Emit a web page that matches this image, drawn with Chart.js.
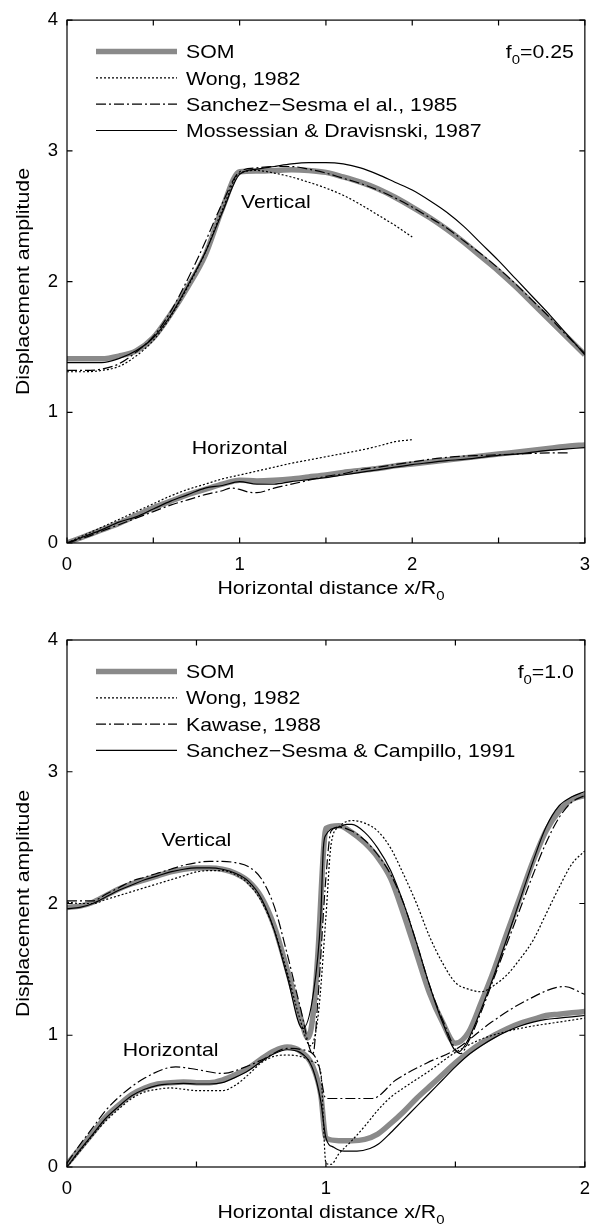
<!DOCTYPE html>
<html>
<head>
<meta charset="utf-8">
<script src="https://cdn.jsdelivr.net/npm/chart.js"></script>
<style>
  body { margin: 0; background: #fff; }
  canvas { display: block; }
</style>
</head>
<body>
<canvas id="chartTop" width="601" height="615"></canvas>
<canvas id="chartBottom" width="601" height="615"></canvas>
<script>
  // ---------- top panel, f0 = 0.25 ----------
  const topX = [0,0.1,0.2,0.3,0.4,0.5,0.6,0.7,0.8,0.9,1,1.1,1.2,1.3,1.4,1.5,1.6,1.7,1.8,1.9,2,2.1,2.2,2.3,2.4,2.5,2.6,2.7,2.8,2.9,3];
  const topWongX = [0,0.1,0.2,0.3,0.4,0.5,0.6,0.7,0.8,0.9,1,1.1,1.2,1.3,1.4,1.5,1.6,1.7,1.8,1.9,2];

  const topSomVert = [1.41,1.41,1.41,1.43,1.47,1.57,1.75,1.96,2.20,2.56,2.84,2.845,2.85,2.855,2.85,2.835,2.80,2.76,2.71,2.645,2.57,2.49,2.40,2.30,2.19,2.08,1.96,1.83,1.70,1.57,1.44];
  const topWongVert = [1.31,1.31,1.32,1.35,1.43,1.55,1.73,1.96,2.22,2.55,2.83,2.85,2.83,2.80,2.76,2.715,2.66,2.59,2.51,2.43,2.34];
  const topSanchezVert = [1.32,1.32,1.33,1.37,1.46,1.58,1.77,2.02,2.30,2.60,2.84,2.87,2.88,2.88,2.86,2.83,2.79,2.75,2.70,2.64,2.57,2.49,2.41,2.31,2.21,2.10,1.98,1.85,1.72,1.58,1.45];
  const topMossVert = [1.38,1.38,1.38,1.41,1.47,1.57,1.74,1.97,2.22,2.53,2.82,2.86,2.88,2.90,2.91,2.91,2.90,2.87,2.82,2.76,2.70,2.62,2.53,2.42,2.29,2.16,2.02,1.88,1.74,1.59,1.44];

  const topSomHorz = [0,0.05,0.10,0.15,0.21,0.27,0.32,0.37,0.41,0.45,0.48,0.475,0.48,0.49,0.505,0.52,0.54,0.555,0.57,0.59,0.605,0.62,0.635,0.65,0.665,0.68,0.695,0.71,0.725,0.74,0.75];
  const topWongHorz = [0,0.06,0.12,0.18,0.24,0.30,0.36,0.41,0.45,0.49,0.52,0.55,0.58,0.61,0.635,0.66,0.685,0.71,0.74,0.775,0.79];
  const topSanchezHorzX = [0,0.1,0.2,0.3,0.4,0.5,0.6,0.7,0.8,0.9,0.95,1.0,1.05,1.1,1.2,1.3,1.4,1.5,1.6,1.7,1.8,1.9,2.0,2.1,2.2,2.3,2.4,2.5,2.6,2.7,2.8,2.9];
  const topSanchezHorz = [0,0.04,0.09,0.14,0.19,0.24,0.29,0.33,0.37,0.40,0.42,0.41,0.39,0.385,0.42,0.45,0.48,0.51,0.53,0.56,0.58,0.60,0.62,0.64,0.655,0.665,0.67,0.675,0.68,0.685,0.69,0.69];
  const topMossHorz = [0,0.05,0.10,0.16,0.20,0.26,0.32,0.37,0.42,0.44,0.47,0.45,0.45,0.47,0.485,0.50,0.52,0.54,0.56,0.58,0.60,0.615,0.63,0.64,0.655,0.67,0.68,0.695,0.71,0.72,0.73];

  const topLegend = ['SOM', 'Wong, 1982', 'Sanchez\u2212Sesma el al., 1985', 'Mossessian & Dravisnski, 1987'];

  // ---------- bottom panel, f0 = 1.0 ----------
  const botSomVertX = [0,0.05,0.1,0.15,0.2,0.25,0.3,0.35,0.4,0.45,0.5,0.55,0.6,0.65,0.7,0.75,0.8,0.85,0.9,0.93,0.95,0.97,0.99,1.0,1.05,1.1,1.15,1.2,1.25,1.3,1.35,1.4,1.45,1.5,1.55,1.6,1.65,1.7,1.75,1.8,1.85,1.9,1.95,2.0];
  const botSomVert = [1.97,1.98,2.01,2.06,2.11,2.15,2.18,2.21,2.24,2.26,2.27,2.27,2.26,2.23,2.17,2.05,1.83,1.50,1.15,0.98,1.15,1.65,2.38,2.57,2.59,2.54,2.46,2.35,2.19,1.92,1.62,1.32,1.10,0.94,1.02,1.25,1.50,1.78,2.05,2.32,2.55,2.70,2.79,2.82];
  const botWongVertX = [0,0.05,0.1,0.15,0.2,0.25,0.3,0.35,0.4,0.45,0.5,0.55,0.6,0.65,0.7,0.75,0.8,0.85,0.9,0.94,0.97,1.0,1.02,1.05,1.1,1.15,1.2,1.25,1.3,1.35,1.4,1.45,1.5,1.55,1.6,1.65,1.7,1.75,1.8,1.85,1.9,1.95,2.0];
  const botWongVert = [2.01,2.00,2.00,2.03,2.06,2.09,2.12,2.15,2.18,2.21,2.24,2.25,2.25,2.22,2.15,2.02,1.80,1.48,1.12,0.92,1.15,1.90,2.45,2.58,2.63,2.61,2.55,2.42,2.22,2.00,1.75,1.55,1.40,1.35,1.33,1.38,1.46,1.58,1.72,1.92,2.12,2.30,2.40];
  const botKawaseVertX = [0,0.05,0.1,0.15,0.2,0.25,0.3,0.35,0.4,0.45,0.5,0.55,0.6,0.65,0.7,0.75,0.8,0.85,0.9,0.95,0.97,1.0,1.02,1.05,1.1,1.15,1.2,1.25,1.3,1.35,1.4,1.45,1.52,1.55,1.6,1.65,1.7,1.75,1.8,1.85,1.9,1.95,2.0];
  const botKawaseVert = [2.02,2.02,2.02,2.07,2.12,2.17,2.20,2.23,2.26,2.29,2.31,2.32,2.32,2.31,2.28,2.19,1.98,1.62,1.22,0.86,1.30,2.20,2.55,2.58,2.55,2.48,2.37,2.22,2.00,1.70,1.38,1.12,0.86,0.95,1.18,1.44,1.70,1.96,2.22,2.46,2.65,2.77,2.82];
  const botCampilloVertX = [0,0.05,0.1,0.15,0.2,0.25,0.3,0.35,0.4,0.45,0.5,0.55,0.6,0.65,0.7,0.75,0.8,0.85,0.91,0.95,0.98,0.99,1.0,1.05,1.08,1.1,1.15,1.2,1.25,1.3,1.35,1.4,1.45,1.51,1.55,1.6,1.65,1.7,1.75,1.8,1.85,1.9,1.95,2.0];
  const botCampilloVert = [1.96,1.97,2.00,2.05,2.10,2.14,2.18,2.21,2.24,2.26,2.27,2.27,2.26,2.23,2.17,2.04,1.80,1.45,1.05,1.30,1.90,2.42,2.52,2.58,2.60,2.60,2.54,2.42,2.25,2.00,1.70,1.38,1.10,0.87,0.97,1.20,1.46,1.74,2.03,2.32,2.58,2.74,2.81,2.85];

  const botSomHorzX = [0,0.05,0.1,0.15,0.2,0.25,0.3,0.35,0.4,0.45,0.5,0.55,0.6,0.65,0.7,0.75,0.8,0.85,0.9,0.95,0.98,1.0,1.05,1.1,1.15,1.2,1.25,1.3,1.35,1.4,1.45,1.5,1.55,1.6,1.65,1.7,1.75,1.8,1.85,1.9,1.95,2.0];
  const botSomHorz = [0.02,0.14,0.26,0.38,0.47,0.55,0.60,0.63,0.64,0.645,0.64,0.64,0.66,0.70,0.75,0.82,0.88,0.91,0.88,0.76,0.55,0.22,0.20,0.20,0.21,0.25,0.33,0.42,0.52,0.61,0.70,0.79,0.87,0.94,1.00,1.05,1.09,1.12,1.15,1.16,1.17,1.18];
  const botWongHorzX = [0,0.05,0.1,0.15,0.2,0.25,0.3,0.35,0.4,0.45,0.5,0.55,0.6,0.65,0.7,0.75,0.8,0.85,0.9,0.95,0.98,1.0,1.02,1.05,1.1,1.15,1.2,1.25,1.3,1.4,1.5,1.6,1.7,1.8,1.9,2.0];
  const botWongHorz = [0.0,0.12,0.24,0.35,0.44,0.52,0.57,0.59,0.60,0.59,0.58,0.58,0.58,0.62,0.70,0.79,0.84,0.85,0.84,0.80,0.72,0.03,0.02,0.10,0.20,0.31,0.43,0.53,0.60,0.73,0.87,0.97,1.03,1.07,1.10,1.13];
  const botKawaseHorzX = [0,0.05,0.1,0.15,0.2,0.3,0.42,0.5,0.6,0.69,0.76,0.85,0.91,0.97,1.0,1.18,1.27,1.39,1.5,1.64,1.78,1.92,2.0];
  const botKawaseHorz = [0.03,0.17,0.30,0.43,0.53,0.675,0.76,0.74,0.71,0.76,0.82,0.90,0.89,0.79,0.52,0.52,0.66,0.79,0.89,1.10,1.27,1.37,1.31];
  const botCampilloHorzX = [0,0.05,0.1,0.15,0.2,0.25,0.3,0.35,0.4,0.45,0.5,0.55,0.6,0.65,0.7,0.75,0.8,0.85,0.9,0.95,0.98,1.0,1.03,1.07,1.12,1.17,1.2,1.25,1.3,1.35,1.4,1.45,1.5,1.55,1.6,1.65,1.7,1.75,1.8,1.85,1.9,1.95,2.0];
  const botCampilloHorz = [0.0,0.13,0.25,0.37,0.46,0.54,0.59,0.62,0.63,0.635,0.63,0.63,0.64,0.68,0.73,0.80,0.86,0.89,0.87,0.74,0.50,0.22,0.15,0.12,0.12,0.14,0.17,0.26,0.36,0.46,0.56,0.66,0.76,0.85,0.92,0.98,1.03,1.07,1.10,1.12,1.13,1.14,1.15];

  const botLegend = ['SOM', 'Wong, 1982', 'Kawase, 1988', 'Sanchez\u2212Sesma & Campillo, 1991'];

  const yTicks = [0, 1, 2, 3, 4];

  // ---------- styles ----------
  const FONT = '"Liberation Sans", Arial, Helvetica, sans-serif';
  const FS = 18.5;      // font size
  const SX = 1.15;      // the original text is a bit wide
  const LINE = {
    som:     { borderColor: '#8a8a8a', borderWidth: 5.5, borderDash: [] },
    dot:     { borderColor: '#000', borderWidth: 1.2, borderDash: [2, 2] },
    dashdot: { borderColor: '#000', borderWidth: 1.2, borderDash: [10, 3, 2, 3] },
    solid:   { borderColor: '#000', borderWidth: 1.2, borderDash: [] }
  };
  const legendKinds = ['som', 'dot', 'dashdot', 'solid'];

  function pts(xs, ys) {
    return xs.map((x, i) => ({ x: x, y: ys[i] }));
  }

  function wideText(ctx, str, x, y, align) {
    ctx.save();
    ctx.translate(x, y);
    ctx.scale(SX, 1);
    ctx.textAlign = align || 'left';
    ctx.fillText(str, 0, 0);
    ctx.restore();
  }

  // text with a subscript: parts = [[text, isSub], ...]
  function subText(ctx, parts, x, y, align) {
    const widths = parts.map(p => {
      ctx.font = (p[1] ? 13 : FS) + 'px ' + FONT;
      return ctx.measureText(p[0]).width * SX;
    });
    const total = widths.reduce((a, b) => a + b, 0);
    let cx = align === 'center' ? x - total / 2 : align === 'right' ? x - total : x;
    parts.forEach((p, i) => {
      ctx.font = (p[1] ? 13 : FS) + 'px ' + FONT;
      wideText(ctx, p[0], cx, p[1] ? y + 6 : y, 'left');
      cx += widths[i];
    });
  }

  function matlabAxes(p) {
    return {
      id: 'matlabAxes',
      afterDraw(chart) {
        const { ctx, chartArea: a, scales: { x, y } } = chart;
        ctx.save();
        ctx.fillStyle = '#000';
        ctx.strokeStyle = '#000';
        ctx.lineWidth = 1.2;
        ctx.setLineDash([]);
        ctx.strokeRect(a.left, a.top, a.right - a.left, a.bottom - a.top);
        // inward ticks on all four sides
        ctx.beginPath();
        x.ticks.forEach(t => {
          const px = x.getPixelForValue(t.value);
          ctx.moveTo(px, a.bottom); ctx.lineTo(px, a.bottom - 5.5);
          ctx.moveTo(px, a.top); ctx.lineTo(px, a.top + 5.5);
        });
        y.ticks.forEach(t => {
          const py = y.getPixelForValue(t.value);
          ctx.moveTo(a.left, py); ctx.lineTo(a.left + 5.5, py);
          ctx.moveTo(a.right, py); ctx.lineTo(a.right - 5.5, py);
        });
        ctx.stroke();

        ctx.textBaseline = 'alphabetic';
        const capOff = 6.6;

        // legend
        p.legend.forEach((name, i) => {
          const ly = a.top + 31.5 + i * 26.3;
          const st = LINE[legendKinds[i]];
          ctx.save();
          ctx.strokeStyle = st.borderColor;
          ctx.lineWidth = st.borderWidth;
          ctx.setLineDash(st.borderDash);
          ctx.beginPath();
          ctx.moveTo(a.left + 29, ly);
          ctx.lineTo(a.left + 110, ly);
          ctx.stroke();
          ctx.restore();
          ctx.font = FS + 'px ' + FONT;
          wideText(ctx, name, a.left + 119, ly + capOff, 'left');
        });

        // f0 label
        subText(ctx, [['f', false], ['0', true], [p.f0, false]], a.right - 11, a.top + 31.5 + capOff, 'right');

        // curve labels
        ctx.font = FS + 'px ' + FONT;
        p.labels.forEach(l => {
          wideText(ctx, l.text, x.getPixelForValue(l.x), y.getPixelForValue(l.y) + capOff, 'center');
        });

        // x axis title
        subText(ctx, [['Horizontal distance x/R', false], ['0', true]], (a.left + a.right) / 2 + 5, a.bottom + 51, 'center');

        // y axis title
        ctx.save();
        ctx.translate(28.6, (a.top + a.bottom) / 2);
        ctx.rotate(-Math.PI / 2);
        ctx.font = FS + 'px ' + FONT;
        wideText(ctx, 'Displacement amplitude', 0, 0, 'center');
        ctx.restore();

        ctx.restore();
      }
    };
  }

  function makeChart(id, p) {
    const datasets = p.series.map(s => Object.assign({
      data: pts(s.x, s.y),
      pointRadius: 0,
      fill: false,
      cubicInterpolationMode: 'monotone',
      order: s.kind === 'som' ? 2 : 1
    }, LINE[s.kind]));

    return new Chart(document.getElementById(id), {
      type: 'line',
      data: { datasets: datasets },
      options: {
        responsive: false,
        animation: false,
        events: [],
        devicePixelRatio: 1,
        layout: { padding: { top: p.padTop, right: 7, left: 0, bottom: 0 } },
        plugins: { legend: { display: false }, tooltip: { enabled: false } },
        scales: {
          x: {
            type: 'linear', min: 0, max: p.xMax,
            grid: { display: false, drawTicks: false },
            border: { display: false },
            ticks: {
              stepSize: 0.5, autoSkip: false, maxRotation: 0, padding: 11,
              color: '#000', font: { family: FONT, size: FS },
              callback: v => Number.isInteger(v) ? String(v) : ''
            },
            afterFit: s => { s.height = p.xAxisH; }
          },
          y: {
            type: 'linear', min: 0, max: 4,
            afterBuildTicks: s => { s.ticks = yTicks.map(v => ({ value: v })); },
            grid: { display: false, drawTicks: false },
            border: { display: false },
            ticks: { padding: 9, color: '#000', font: { family: FONT, size: FS } },
            afterFit: s => { s.width = 67; }
          }
        }
      },
      plugins: [matlabAxes(p)]
    });
  }

  makeChart('chartTop', {
    xMax: 3, padTop: 15, xAxisH: 72, f0: '=0.25', legend: topLegend,
    labels: [{ text: 'Vertical', x: 1.21, y: 2.61 }, { text: 'Horizontal', x: 1.0, y: 0.73 }],
    series: [
      { kind: 'som', x: topX, y: topSomVert },
      { kind: 'som', x: topX, y: topSomHorz },
      { kind: 'dot', x: topWongX, y: topWongVert },
      { kind: 'dot', x: topWongX, y: topWongHorz },
      { kind: 'dashdot', x: topX, y: topSanchezVert },
      { kind: 'dashdot', x: topSanchezHorzX, y: topSanchezHorz },
      { kind: 'solid', x: topX, y: topMossVert },
      { kind: 'solid', x: topX, y: topMossHorz }
    ]
  });

  makeChart('chartBottom', {
    xMax: 2, padTop: 25, xAxisH: 63, f0: '=1.0', legend: botLegend,
    labels: [{ text: 'Vertical', x: 0.50, y: 2.49 }, { text: 'Horizontal', x: 0.40, y: 0.89 }],
    series: [
      { kind: 'som', x: botSomVertX, y: botSomVert },
      { kind: 'som', x: botSomHorzX, y: botSomHorz },
      { kind: 'dot', x: botWongVertX, y: botWongVert },
      { kind: 'dot', x: botWongHorzX, y: botWongHorz },
      { kind: 'dashdot', x: botKawaseVertX, y: botKawaseVert },
      { kind: 'dashdot', x: botKawaseHorzX, y: botKawaseHorz },
      { kind: 'solid', x: botCampilloVertX, y: botCampilloVert },
      { kind: 'solid', x: botCampilloHorzX, y: botCampilloHorz }
    ]
  });
</script>
</body>
</html>
